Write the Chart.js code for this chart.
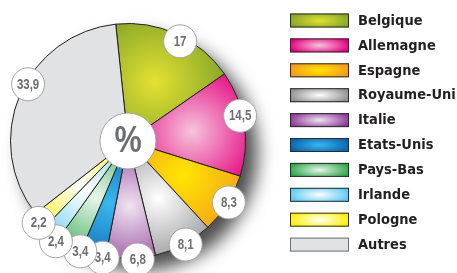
<!DOCTYPE html>
<html>
<head>
<meta charset="utf-8">
<script src="https://cdn.jsdelivr.net/npm/chart.js@4/dist/chart.umd.min.js"></script>
<style>
    html, body { margin: 0; padding: 0; background: #fff; }
    canvas { display: block; }
</style>
</head>
<body>
<canvas id="pieChart" width="457" height="273"></canvas>
<script>
// データ
const countries = ["Belgique", "Allemagne", "Espagne", "Royaume-Uni", "Italie", "Etats-Unis", "Pays-Bas", "Irlande", "Pologne", "Autres"];
const shares = [17, 14.5, 8.3, 8.1, 6.8, 3.4, 3.4, 2.4, 2.2, 33.9];
const shareLabels = ["17", "14,5", "8,3", "8,1", "6,8", "3,4", "3,4", "2,4", "2,2", "33,9"];

// 色（グラデーションの中心色と外側の色）
const lightColors = ["#e4e232", "#f6c4dd", "#ffe600", "#ffffff", "#f1e4f2", "#38b8ee", "#eaf6ed", "#ffffff", "#ffffff", "#e1e2e3"];
const darkColors = ["#86a52a", "#e4007c", "#f39a1e", "#8e8f91", "#8b3a94", "#0a62ac", "#2ea64b", "#5cc8f3", "#fff000", "#e1e2e3"];

// ラベル位置の微調整（度・px）
const labelAngleNudge = [3, -4, -1, -1, -3.4, -4.8, -5.9, -4, -0.5, 6.6];
const labelRadiusNudge = [-5, -2.6, 0.6, 1, 1.4, 2, 2.7, 6, 3.7, -2.6];
const ROTATION = -6;

const total = shares.reduce((a, b) => a + b, 0);

function sliceFill(context) {
    const chart = context.chart;
    const area = chart.chartArea;
    const i = context.dataIndex;
    if (!area || i === undefined) return darkColors[i] || "#ccc";
    const cx = (area.left + area.right) / 2;
    const cy = (area.top + area.bottom) / 2;
    const r = Math.min(area.width, area.height) / 2;
    const before = shares.slice(0, i).reduce((a, b) => a + b, 0);
    const mid = ((ROTATION - 90) + ((before + shares[i] / 2) / total) * 360) * Math.PI / 180;
    const gx = cx + Math.cos(mid) * r * 0.55;
    const gy = cy + Math.sin(mid) * r * 0.55;
    const g = chart.ctx.createRadialGradient(gx, gy, 0, gx, gy, r * 0.62);
    g.addColorStop(0, lightColors[i]);
    g.addColorStop(1, darkColors[i]);
    return g;
}

// 細い文字（横方向に縮める）
function narrowText(ctx, text, x, y, size, scale) {
    ctx.save();
    ctx.translate(x, y);
    ctx.scale(scale, 1);
    ctx.font = "bold " + size + "px 'Liberation Sans', Arial, sans-serif";
    ctx.textAlign = "center";
    ctx.textBaseline = "middle";
    ctx.fillText(text, 0, 0);
    ctx.restore();
}

// 円の影
const shadowPlugin = {
    id: "pieShadow",
    beforeDatasetsDraw(chart) {
        const arc = chart.getDatasetMeta(0).data[0];
        if (!arc) return;
        const { x, y, outerRadius } = arc.getProps(["x", "y", "outerRadius"], true);
        const ctx = chart.ctx;
        ctx.save();
        ctx.shadowColor = "rgba(0,0,0,0.7)";
        ctx.shadowBlur = 18;
        ctx.shadowOffsetX = 12;
        ctx.shadowOffsetY = 12;
        ctx.beginPath();
        ctx.arc(x, y, outerRadius, 0, Math.PI * 2);
        ctx.fillStyle = "#e1e2e3";
        ctx.fill();
        ctx.restore();
    },
};

// 値ラベルと中央の「%」
const labelPlugin = {
    id: "valueBubbles",
    afterDatasetsDraw(chart) {
        const ctx = chart.ctx;
        const arcs = chart.getDatasetMeta(0).data;
        const first = arcs[0].getProps(["x", "y"], true);

        ctx.save();
        ctx.beginPath();
        ctx.arc(first.x, first.y, 28, 0, Math.PI * 2);
        ctx.fillStyle = "#fff";
        ctx.fill();
        ctx.lineWidth = 1;
        ctx.strokeStyle = "#a3a3a3";
        ctx.stroke();
        ctx.fillStyle = "#6d6e71";
        narrowText(ctx, "%", first.x, first.y + 1, 36, 0.85);

        arcs.forEach((arc, i) => {
            const p = arc.getProps(["x", "y", "startAngle", "endAngle", "outerRadius"], true);
            const a = (p.startAngle + p.endAngle) / 2 + labelAngleNudge[i] * Math.PI / 180;
            const r = p.outerRadius + labelRadiusNudge[i];
            const lx = p.x + Math.cos(a) * r;
            const ly = p.y + Math.sin(a) * r;
            ctx.beginPath();
            ctx.arc(lx, ly, 16.5, 0, Math.PI * 2);
            ctx.fillStyle = "#fff";
            ctx.fill();
            ctx.strokeStyle = "#a3a3a3";
            ctx.stroke();
            ctx.fillStyle = "#6d6e71";
            narrowText(ctx, shareLabels[i], lx, ly + 0.5, 14, 0.82);
        });
        ctx.restore();
    },
};

// 凡例（グラデーションの帯）
const legendPlugin = {
    id: "bandLegend",
    afterDraw(chart) {
        const ctx = chart.ctx;
        const x0 = 290, w = 59, h = 14, top = 13.5, step = 24.9;
        ctx.save();
        countries.forEach((name, i) => {
            const y = top + i * step;
            const cx = x0 + w / 2, cy = y + h / 2;
            ctx.save();
            ctx.translate(cx, cy);
            ctx.scale(1, 0.3);
            const g = ctx.createRadialGradient(0, 0, 0, 0, 0, 31);
            g.addColorStop(0, lightColors[i]);
            g.addColorStop(1, darkColors[i]);
            ctx.fillStyle = g;
            ctx.fillRect(-w / 2, -h / 2 / 0.3, w, h / 0.3);
            ctx.restore();
            ctx.lineWidth = 1;
            ctx.strokeStyle = i === countries.length - 1 ? "#6d6e71" : "#2b2b2b";
            ctx.strokeRect(x0 + 0.5, y + 0.5, w - 1, h - 1);
            ctx.fillStyle = "#231f20";
            ctx.font = "bold 14.5px 'DejaVu Sans Condensed', sans-serif";
            ctx.textAlign = "left";
            ctx.textBaseline = "middle";
            ctx.fillText(name, 358, cy + 0.5);
        });
        ctx.restore();
    },
};

document.addEventListener("DOMContentLoaded", () => {
    const ctx = document.getElementById("pieChart").getContext("2d");
    new Chart(ctx, {
        type: "pie",
        data: {
            labels: countries,
            datasets: [
                {
                    data: shares,
                    backgroundColor: sliceFill,
                    borderColor: "#231f20",
                    borderWidth: 1,
                    hoverOffset: 0,
                },
            ],
        },
        options: {
            responsive: false,
            animation: false,
            rotation: ROTATION,
            layout: {
                padding: { left: 10, right: 211, top: 23, bottom: 14 },
            },
            plugins: {
                legend: { display: false },
                tooltip: { enabled: false },
            },
        },
        plugins: [shadowPlugin, labelPlugin, legendPlugin],
    });
});
</script>
</body>
</html>
